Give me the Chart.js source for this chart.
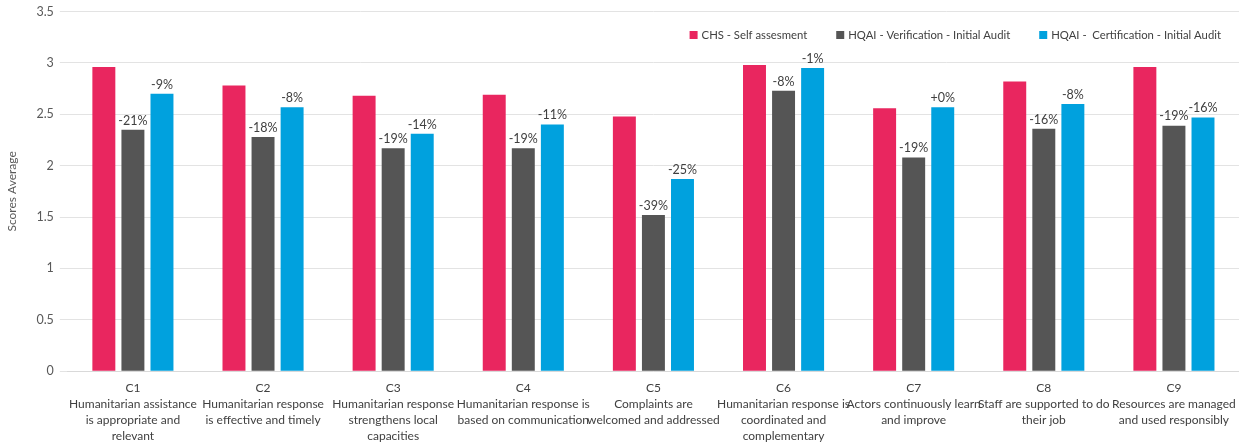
<!DOCTYPE html>
<html>
<head>
<meta charset="utf-8">
<script src="https://cdn.jsdelivr.net/npm/chart.js@4/dist/chart.umd.min.js"></script>
<style>
  html, body { margin: 0; padding: 0; background: #fff; }
  #wrap { width: 1239px; height: 443px; position: relative; }
</style>
</head>
<body>
<div id="wrap"><canvas id="mainChart"></canvas></div>
<script>
const categories = [
    ['C1', 'Humanitarian assistance', 'is appropriate and', 'relevant'],
    ['C2', 'Humanitarian response', 'is effective and timely'],
    ['C3', 'Humanitarian response', 'strengthens local', 'capacities'],
    ['C4', 'Humanitarian response is', 'based on communication'],
    ['C5', 'Complaints are', 'welcomed and addressed'],
    ['C6', 'Humanitarian response is', 'coordinated and', 'complementary'],
    ['C7', 'Actors continuously learn', 'and improve'],
    ['C8', 'Staff are supported to do', 'their job'],
    ['C9', 'Resources are managed', 'and used responsibly']
];
const seriesNames = ['CHS - Self assesment', 'HQAI - Verification - Initial Audit', 'HQAI -  Certification - Initial Audit'];
const selfScores = [2.96, 2.78, 2.68, 2.69, 2.48, 2.98, 2.56, 2.82, 2.96];
const verifScores = [2.35, 2.28, 2.17, 2.17, 1.52, 2.73, 2.08, 2.36, 2.39];
const certScores = [2.70, 2.57, 2.31, 2.40, 1.87, 2.95, 2.57, 2.60, 2.47];
const verifLabels = ['-21%', '-18%', '-19%', '-19%', '-39%', '-8%', '-19%', '-16%', '-19%'];
const certLabels = ['-9%', '-8%', '-14%', '-11%', '-25%', '-1%', '+0%', '-8%', '-16%'];
const yTicks = [0, 0.5, 1, 1.5, 2, 2.5, 3, 3.5];

const colors = ['#e9265f', '#555555', '#00a1de'];
const FONT = 'Lato, "Open Sans", sans-serif';

// percentage labels above the two audit series
const barLabels = {
    id: 'barLabels',
    afterDatasetsDraw(chart) {
        const ctx = chart.ctx;
        ctx.save();
        ctx.font = '12.5px ' + FONT;
        ctx.fillStyle = '#404040';
        ctx.textAlign = 'center';
        ctx.textBaseline = 'bottom';
        [[1, verifLabels], [2, certLabels]].forEach(([di, labels]) => {
            chart.getDatasetMeta(di).data.forEach((bar, i) => {
                ctx.fillText(labels[i], bar.x, bar.y - 3);
            });
        });
        ctx.restore();
    }
};

// legend drawn inside the plot, top right
const innerLegend = {
    id: 'innerLegend',
    afterDraw(chart) {
        const ctx = chart.ctx;
        ctx.save();
        ctx.font = '11.3px ' + FONT;
        ctx.textBaseline = 'middle';
        const box = 8, gap = 4, spacing = 29;
        const items = chart.data.datasets.map(ds => ({ text: ds.label, color: ds.backgroundColor }));
        let total = 0;
        items.forEach((it, i) => { total += box + gap + ctx.measureText(it.text).width + (i ? spacing : 0); });
        let x = 1221 - total;
        const y = 35;
        items.forEach(it => {
            ctx.fillStyle = it.color;
            ctx.fillRect(x, y - box / 2, box, box);
            x += box + gap;
            ctx.fillStyle = '#404040';
            ctx.fillText(it.text, x, y);
            x += ctx.measureText(it.text).width + spacing;
        });
        ctx.restore();
    }
};

const ctx = document.getElementById('mainChart').getContext('2d');
new Chart(ctx, {
    type: 'bar',
    data: {
        labels: categories,
        datasets: [
            { label: seriesNames[0], data: selfScores, backgroundColor: colors[0] },
            { label: seriesNames[1], data: verifScores, backgroundColor: colors[1] },
            { label: seriesNames[2], data: certScores, backgroundColor: colors[2] }
        ]
    },
    options: {
        responsive: true,
        maintainAspectRatio: false,
        animation: false,
        layout: { padding: { top: 0, right: 0, left: 1, bottom: -2 } },
        datasets: { bar: { categoryPercentage: 0.67, barPercentage: 0.79 } },
        plugins: { legend: { display: false }, tooltip: { enabled: false } },
        scales: {
            x: {
                grid: { display: false },
                border: { color: '#d9d9d9' },
                ticks: {
                    color: '#404040',
                    font: { family: FONT, size: 12, lineHeight: 1.33 },
                    maxRotation: 0, minRotation: 0, autoSkip: false, padding: 1
                }
            },
            y: {
                min: 0, max: 3.5,
                afterBuildTicks(axis) { axis.ticks = yTicks.map(v => ({ value: v })); },
                grid: { color: '#e3e3e3' },
                border: { display: false },
                ticks: {
                    color: '#595959', font: { family: FONT, size: 12.5, lineHeight: 0.9 }, padding: 6,
                    callback: v => String(v)
                },
                title: { display: true, text: 'Scores Average', color: '#595959', font: { family: FONT, size: 12 }, padding: { top: 4, bottom: 11 } }
            }
        }
    },
    plugins: [barLabels, innerLegend]
});
</script>
</body>
</html>
